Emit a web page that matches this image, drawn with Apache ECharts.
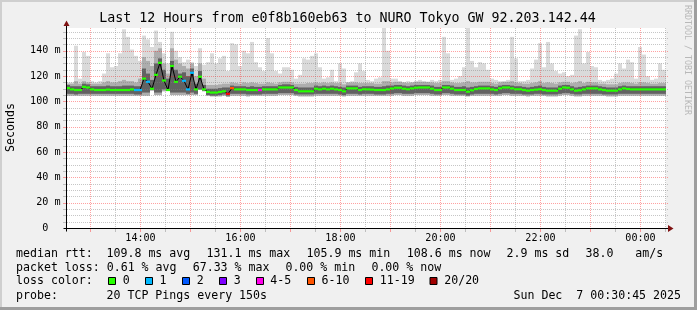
<!DOCTYPE html>
<html><head><meta charset="utf-8">
<script src="https://cdn.jsdelivr.net/npm/echarts@6/dist/echarts.min.js"></script>
<style>html,body{margin:0;padding:0;background:#f0f0f0}#c{width:697px;height:310px}</style>
</head><body><div id="c"></div><script>
// ---- time base (minutes after 12:00), one sample column every 4.8 min ----
const START_MIN = 31.2;   // 12:31:12
const END_MIN = 751.2;    // 00:31:12
const STEP_MIN = 4.8;
const Y_MAX = 158;

// ---- smoke: max ping (light), min ping, upper medium band, dark band ----
const pingMax = [
115,115,144,118,139,136,116,115,116,122,
138,127,128,138,157,151,141,136,132,152,
149,143,156,147,138,130,155,140,135,131,
133,131,128,142,129,131,138,130,134,136,
124,146,145,128,140,138,147,131,127,124,
150,138,124,122,127,127,125,118,121,134,
133,136,138,127,118,119,125,116,130,126,
115,116,123,130,124,117,116,118,119,158,
140,118,118,116,115,116,115,116,117,116,
115,117,116,117,151,138,117,118,120,127,
158,132,127,131,130,125,118,117,116,116,
117,151,134,116,116,117,126,133,146,127,
147,130,124,122,123,120,121,152,157,130,
139,128,127,117,116,117,118,122,130,126,
133,131,118,143,137,120,117,118,130,125];
const pingMin = [
104.5,104.5,104.5,104.5,104.5,104.5,104.5,104.5,104.5,104.5,
104.5,104.5,104.5,104.5,104.5,104.5,104.5,104.5,104.5,104.5,
104.5,108.5,105,105,108,108.5,105,105,105,105,
105,105,105,109,108,104.5,104,104,104,104.5,
103.5,104.5,104.5,104.5,104.5,104,104.5,104.5,104.5,104.5,
104.5,104.5,104.5,105,105,105,105,104.5,104,104,
104,104,104.5,104.5,104.5,104.5,104.5,104.5,104.5,104,
104.5,104.5,104.5,104.5,104.5,104.5,104.5,104.5,104.5,104.5,
104.5,104.5,105,105,104.5,104.5,104.5,105,105,105,
105,104.5,104.5,104.5,105,105,104.5,104.5,104.5,104.5,
104,104.5,104.5,104.5,104.5,104.5,104.5,104.5,104.5,105,
105,104.5,104.5,104.5,104.5,104,104.5,104.5,104.5,104.5,
104,104,104,104.5,105,105,104.5,104,104,104.5,
104.5,104.5,104.5,104.5,104.5,104,104,104,104.5,104.5,
104.5,104.5,104.5,104.5,104.5,104.5,104.5,104.5,104.5,104.5];
const bandMid = [
114,114,116,114,116,115,114,114,114,115,
116,115,115,116,117,116,116,115,118,135,
132,128,140,142,130,122,142,133,130,128,
126,130,120,130,118,113,113,113,113.5,114,
114,115,114.5,114,115,114.5,115,114.5,114,114,
115,114.5,114,115,115.5,115.5,115,114,114,114,
114.5,114.5,115,114.5,115,114.5,115,114.5,114.5,113.5,
115,115,115,114.5,114.5,114.5,114.5,114,114,116,
116,115,115.5,115.5,115,114.5,115,115.5,115.5,115.5,
115.5,115,114.5,114.5,116,116,115,114.5,114.5,115,
116,115,115,115.5,115.5,115.5,114.5,114,115,115.5,
115.5,116,115,114.5,114,114,114.5,115,116,114.5,
115,114.5,114,115,115.5,115.5,114.5,115,116,114.5,
115.5,115,115,114,114,113.5,113.5,113.5,114.5,115,
115,114.5,114,115,115,114.5,114,114,114.5,114.5];
const darkLo = [
106,106,105.5,106,106,106,106,106,106,106,
106,106,106,106,106,106,106,105.5,105.5,107,
107,109,107,107,109.5,109,107,107,107,107,
106,107,106,109.5,108.5,105,104.5,104.5,105,105.5,
104.5,106,106,106,106,105.5,105.5,105.5,105.5,106,
106,106,106,106.5,106.5,106.5,106.5,105.5,105.5,105.5,
105.5,105.5,106,106,106,106,106,106,105.5,105,
106,106,106,105.5,106,106,106,105.5,105.5,105.5,
106,106,106.5,106.5,106,106,106,106.5,106.5,106.5,
106.5,106,105.5,105.5,106.5,106.5,106,105.5,105.5,105.5,
104.5,105.5,106,106,106,106,106,105.5,106,106.5,
106.5,106,106,106,105.5,105.5,105.5,106,106,105.5,
105.5,105.5,105.5,106,106.5,106.5,106,105.5,105.5,106,
106,106,106,106,105.5,105.5,105.5,105.5,106,106,
106,106,106,106,106,106,106,106,106,106];
const darkHi = [
113,112,112,112,114,113.5,112,112,112,112,
112.5,112,112,112,112.5,112.5,112.5,112,112,126,
122,117,130,134,125,118,132,125,122,123,
120,126,114,124,113,110,110,110,110.5,111,
111,112.5,112,112,112,111.5,112,111.5,111.5,112,
112,112,112,113,113.5,113.5,113,111.5,111,111,
111,111,112.5,112,112.5,112,112.5,112,111.5,111,
112.5,112.5,112.5,111.5,112,112,112,111.5,111.5,112,
112.5,112.5,113,113,112.5,112,112.5,113,113,113,
113,112.5,111.5,111.5,113,113,112.5,111.5,111.5,112,
111,111.5,112,112.5,112.5,112.5,112,111.5,112.5,113,
113,112.5,112,112,111.5,111,111.5,112,112.5,111.5,
111,111,111,112.5,113,113,112,111,111.5,112,
112.5,112.5,112.5,112,111.5,111,111,111,112,112.5,
112,112,112,112,112,112,112,112,112,112];

// ---- median rtt (ms) and loss class per column ----
const medianRtt = [
110.5,109.5,109,109,111.5,111,109.5,109,109,109,
109.3,109,109,109,109,109,109.5,109,109,118,
115.5,110,121,130.5,116.5,109,128,115.5,119.5,116.3,
109.5,122.6,109.5,119.5,109.5,107.5,107,107,107.5,108,
106,110.5,109.5,109.5,109.5,109,109,109,109,109.5,
109.5,109.5,109.5,111,111,111,111,109,108,108,
108,108,110,109.5,110,109.5,110,109.5,109,108,
110.3,110.3,110.3,109,109.6,109.5,109.3,109,109,109,
109.5,110.2,110.8,110.8,110,109.6,110.3,110.8,111,111,
111,110,109,109,111,111,110,109,109,109,
107.7,108.8,109.8,110.3,110.3,110.3,109.5,109,110.3,111,
111,110.3,109.6,109.6,109,108.5,109,109.3,109.6,109,
108.5,108.5,108.5,110,111,110.8,109.5,108.5,108.8,109.5,
110.3,110.3,110.3,109.5,109,108.5,108.5,108.5,109.5,110.3,
109.8,109.5,109.5,109.5,109.5,109.5,109.5,109.5,109.5,109.5];
const lossClass = [
0,0,0,0,0,0,0,0,0,0, 0,0,0,0,0,0,0,1,1,0, 1,0,0,0,0,0,0,0,0,1,
1,1,0,0,0,0,0,0,0,0, 6,5,0,0,0,0,0,0,4,0, 0,0,0,0,0,0,0,0,0,0,
0,0,0,0,0,0,0,0,0,0, 0,0,0,0,0,0,0,0,0,0, 0,0,0,0,0,0,0,0,0,0,
0,0,0,0,0,0,0,0,0,0, 0,0,0,0,0,0,0,0,0,0, 0,0,0,0,0,0,0,0,0,0,
0,0,0,0,0,0,0,0,0,0, 0,0,0,0,0,0,0,0,0,0, 0,0,0,0,0,0,0,0,0,0];
const lossLabels = ['0','1','2','3','4-5','6-10','11-19','20/20'];
const lossColors = ['#26ff00','#00b8ff','#0059ff','#7e00ff','#ff00ea','#ff5500','#ff0000','#a10000'];

// ---- axes ----
const yTicks = [0,20,40,60,80,100,120,140];
const yTickLabels = ['0  ','20 m','40 m','60 m','80 m','100 m','120 m','140 m'];
const yGridLines = [5,10,15,20,25,30,35,40,45,50,55,60,65,70,75,80,85,90,95,100,105,110,115,120,125,130,135,140,145,150,155];
const xGridMinutes = [60,90,120,150,180,210,240,270,300,330,360,390,420,450,480,510,540,570,600,630,660,690,720,750];
const xTickMinutes = [120,240,360,480,600,720];
const xTickLabels = ['14:00','16:00','18:00','20:00','22:00','00:00'];

const FONT = '"DejaVu Sans Mono", monospace';
const MAJOR = 'rgba(255,32,32,0.42)';
const MINOR = 'rgba(128,128,128,0.45)';
const LIGHT = '#dadada', MEDIUM = '#adadad', DARK = '#626262';

const times = pingMax.map((_, i) => START_MIN + STEP_MIN * (i + 0.5));
const smokeData = times.map((t, i) => [t, pingMin[i], pingMax[i], bandMid[i], darkLo[i], darkHi[i]]);
const medData = times.map((t, i) => [t, medianRtt[i], lossClass[i]]);

function colSpan(api, t) {
  return [api.coord([t - STEP_MIN / 2, 0])[0], api.coord([t + STEP_MIN / 2, 0])[0]];
}
function smokeItem(p, api) {
  const t = api.value(0);
  const [xa, xb] = colSpan(api, t);
  const r = (v0, v1, c) => {
    const y0 = api.coord([t, v0])[1], y1 = api.coord([t, v1])[1];
    return {type: 'rect', shape: {x: xa, y: y1, width: xb - xa, height: y0 - y1}, style: {fill: c}};
  };
  return {type: 'group', children: [
    r(api.value(1), api.value(2), LIGHT),
    r(api.value(1), api.value(3), MEDIUM),
    r(api.value(4), api.value(5), DARK)
  ]};
}
function medItem(p, api) {
  const t = api.value(0);
  const [xa, xb] = colSpan(api, t);
  const y = api.coord([t, api.value(1)])[1];
  return {type: 'rect', shape: {x: xa, y: y - 1.1, width: xb - xa, height: 2.2},
          style: {fill: lossColors[api.value(2)]}};
}
function vGridItem(p, api) {
  const m = api.value(0);
  const bot = api.coord([m, 0])[1], top = api.coord([m, Y_MAX])[1];
  const x = Math.round(api.coord([m, 0])[0]) + 0.5;
  const col = (m % 60 === 0) ? MAJOR : MINOR;
  return {type: 'group', children: [
    {type: 'line', shape: {x1: x, y1: top, x2: x, y2: bot}, style: {stroke: col, lineWidth: 1, lineDash: [1, 1]}},
    {type: 'line', shape: {x1: x, y1: bot + 1, x2: x, y2: bot + 4}, style: {stroke: col, lineWidth: 1}}
  ]};
}
function hGridItem(p, api) {
  const v = api.value(0);
  const y = Math.round(api.coord([START_MIN, v])[1]) + 0.5;
  const x0 = api.coord([START_MIN, v])[0], x1 = api.coord([END_MIN, v])[0] + 2;
  const col = (v % 20 === 0) ? MAJOR : MINOR;
  return {type: 'group', children: [
    {type: 'line', shape: {x1: x0 + 1, y1: y, x2: x1, y2: y}, style: {stroke: col, lineWidth: 1, lineDash: [1, 1]}},
    {type: 'line', shape: {x1: x0 - 3, y1: y, x2: x0, y2: y}, style: {stroke: col, lineWidth: 1}}
  ]};
}
function yLabelItem(p, api) {
  const v = api.value(0);
  const pt = api.coord([START_MIN, v]);
  return {type: 'text', x: pt[0] - 5.5, y: pt[1],
          style: {text: yTickLabels[p.dataIndex], font: '10.1px ' + FONT, fill: '#000', align: 'right', verticalAlign: 'middle'}};
}
function xLabelItem(p, api) {
  const m = api.value(0);
  const pt = api.coord([m, 0]);
  return {type: 'text', x: pt[0] + 0.5, y: pt[1] + 10,
          style: {text: xTickLabels[p.dataIndex], font: '10.1px ' + FONT, fill: '#000', align: 'center', verticalAlign: 'middle'}};
}
function axesItem(p, api) {
  const o = api.coord([START_MIN, 0]);
  const tl = api.coord([START_MIN, Y_MAX]);
  const br = api.coord([END_MIN, 0]);
  const x = Math.round(o[0]) + 0.5, y = Math.round(o[1]) + 0.5;
  const arrow = '#7f1212';
  return {type: 'group', children: [
    {type: 'line', shape: {x1: x, y1: y + 3, x2: x, y2: tl[1] - 3}, style: {stroke: '#000', lineWidth: 1}},
    {type: 'line', shape: {x1: x - 3, y1: y, x2: br[0] + 2, y2: y}, style: {stroke: '#000', lineWidth: 1}},
    {type: 'polygon', shape: {points: [[x - 3, tl[1] - 2], [x + 3, tl[1] - 2], [x, tl[1] - 7.5]]}, style: {fill: arrow}},
    {type: 'polygon', shape: {points: [[br[0] + 2, y - 3.5], [br[0] + 2, y + 3.5], [br[0] + 7.5, y]]}, style: {fill: arrow}}
  ]};
}

const legendY = [254, 268, 281.3, 295.5];
const legendFont = '11.6px ' + FONT;
function txt(s, x, y, extra) {
  return Object.assign({type: 'text', x: x, y: y, silent: true,
    style: {text: s, font: legendFont, fill: '#000', align: 'left', verticalAlign: 'middle'}}, extra || {});
}
const legendItems = [
  ['median rtt:', 16, 0], ['109.8 ms avg', 106.5, 0], ['131.1 ms max', 206.5, 0], ['105.9 ms min', 306.5, 0],
  ['108.6 ms now', 406.8, 0], ['2.9 ms sd', 506.5, 0], ['38.0', 585.5, 0], ['am/s', 635.2, 0],
  ['packet loss:', 16, 1], ['0.61 % avg', 106.7, 1], ['67.33 % max', 192.7, 1], ['0.00 % min', 285.4, 1], ['0.00 % now', 371.4, 1],
  ['loss color:', 16, 2],
  ['probe:', 16, 3], ['20 TCP Pings every 150s', 106.5, 3]
];
const boxX = [108, 145, 182, 219, 256, 307, 365, 429.5];
const boxLabelX = [122.8, 159.5, 196.8, 233.8, 270.2, 321.5, 379.8, 444.2];

const graphic = [
  {type: 'rect', silent: true, shape: {x: 0, y: 0, width: 697, height: 2}, style: {fill: '#cfcfcf'}},
  {type: 'rect', silent: true, shape: {x: 0, y: 0, width: 2, height: 310}, style: {fill: '#cfcfcf'}},
  {type: 'rect', silent: true, shape: {x: 0, y: 307, width: 697, height: 3}, style: {fill: '#9e9e9e'}},
  {type: 'rect', silent: true, shape: {x: 694, y: 0, width: 3, height: 310}, style: {fill: '#9e9e9e'}},
  {type: 'text', x: 347.5, y: 19, silent: true,
   style: {text: 'Last 12 Hours from e0f8b160eb63 to NURO Tokyo GW 92.203.142.44', font: '13.3px ' + FONT, fill: '#000', align: 'center', verticalAlign: 'middle'}},
  {type: 'text', x: 11, y: 127.5, rotation: Math.PI / 2, silent: true,
   style: {text: 'Seconds', font: legendFont, fill: '#000', align: 'center', verticalAlign: 'middle'}},
  {type: 'text', x: 687, y: 60, rotation: -Math.PI / 2, silent: true,
   style: {text: 'RRDTOOL / TOBI OETIKER', font: '8.3px ' + FONT, fill: '#b8b8b8', align: 'center', verticalAlign: 'middle'}},
  {type: 'text', x: 681, y: legendY[3], silent: true,
   style: {text: 'Sun Dec  7 00:30:45 2025', font: legendFont, fill: '#000', align: 'right', verticalAlign: 'middle'}}
];
legendItems.forEach(([s, x, row]) => graphic.push(txt(s, x, legendY[row])));
lossLabels.forEach((lab, k) => {
  graphic.push({type: 'rect', silent: true, shape: {x: boxX[k] + 0.5, y: 277.5, width: 7, height: 7},
                style: {fill: lossColors[k], stroke: '#000', lineWidth: 1}});
  graphic.push(txt(lab, boxLabelX[k], legendY[2]));
});

const chart = echarts.init(document.getElementById('c'), null, {renderer: 'canvas', width: 697, height: 310});
chart.setOption({
  animation: false,
  backgroundColor: '#f0f0f0',
  grid: {left: 66, right: 31, top: 28, bottom: 82, show: true, backgroundColor: '#ffffff', borderWidth: 0},
  xAxis: {type: 'value', min: START_MIN, max: END_MIN, show: false},
  yAxis: {type: 'value', min: 0, max: Y_MAX, show: false},
  graphic: graphic,
  series: [
    {type: 'custom', name: 'smoke', renderItem: smokeItem, data: smokeData, z: 1, silent: true, clip: true},
    {type: 'custom', name: 'hgrid', renderItem: hGridItem, data: yGridLines.map(v => [v]), z: 2, silent: true},
    {type: 'custom', name: 'vgrid', renderItem: vGridItem, data: xGridMinutes.map(m => [m]), z: 2, silent: true},
    {type: 'line', name: 'median', data: medData.map(d => [d[0], d[1]]), symbol: 'none', z: 3, silent: true,
     lineStyle: {color: '#000', width: 1}},
    {type: 'custom', name: 'medianLoss', renderItem: medItem, data: medData, z: 4, silent: true},
    {type: 'custom', name: 'ylabels', renderItem: yLabelItem, data: yTicks.map(v => [v]), z: 5, silent: true},
    {type: 'custom', name: 'xlabels', renderItem: xLabelItem, data: xTickMinutes.map(m => [m]), z: 5, silent: true},
    {type: 'custom', name: 'axes', renderItem: axesItem, data: [[START_MIN]], z: 6, silent: true}
  ]
});
</script></body></html>
